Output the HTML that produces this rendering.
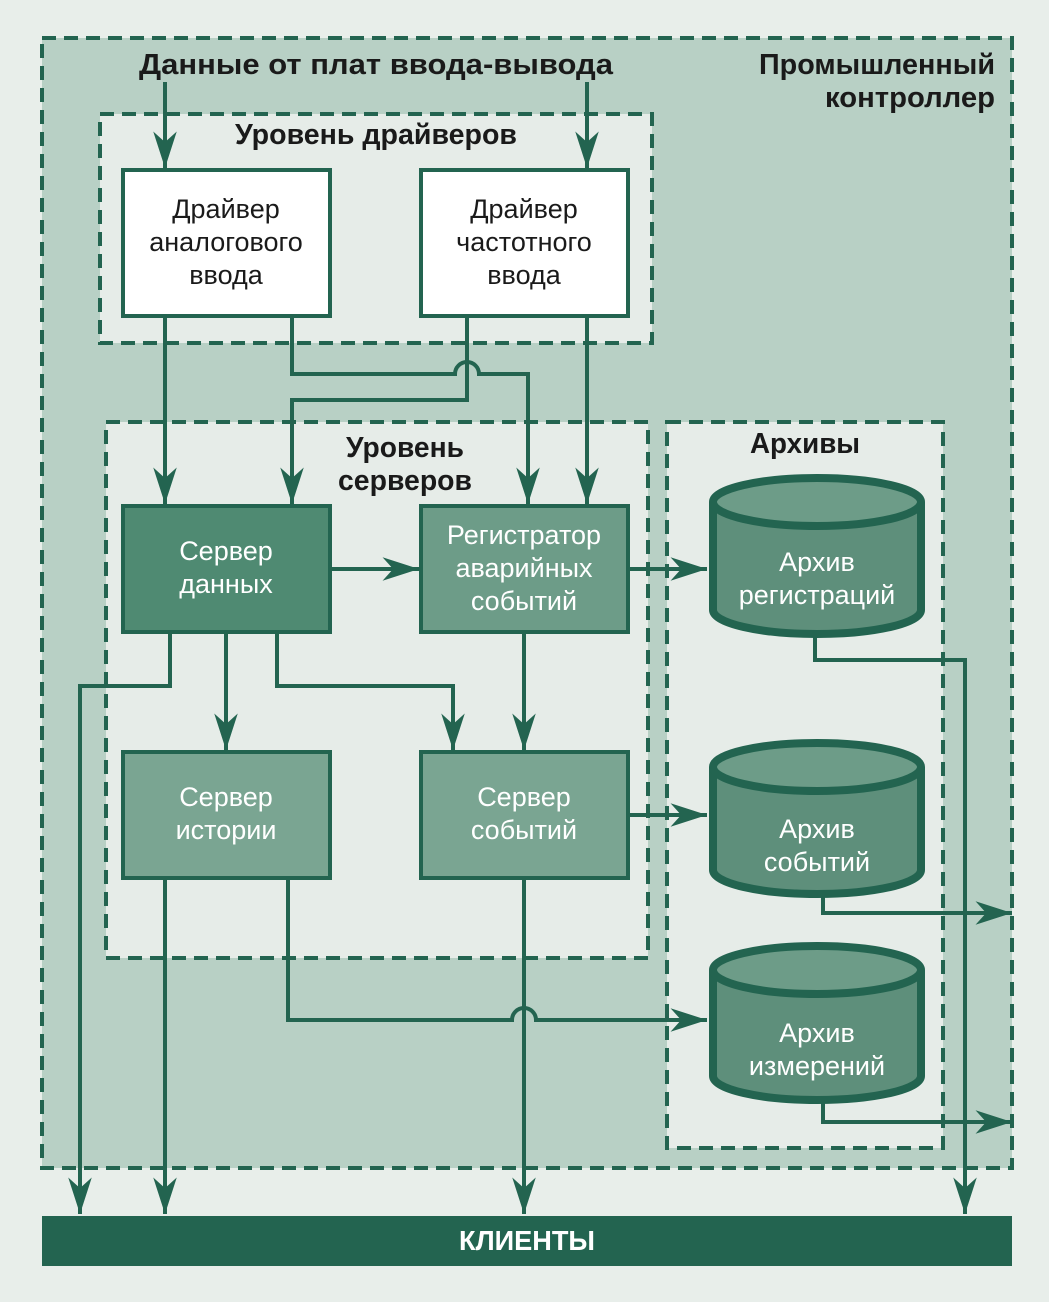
<!DOCTYPE html>
<html><head><meta charset="utf-8"><style>
html,body{margin:0;padding:0;background:#e8eeea;}
svg{display:block}
text{font-family:"Liberation Sans Narrow","Liberation Sans",sans-serif;}
</style></head><body>
<svg width="1049" height="1302" viewBox="0 0 1049 1302" xmlns="http://www.w3.org/2000/svg">
<defs>
<marker id="a" markerUnits="userSpaceOnUse" markerWidth="40" markerHeight="30" viewBox="-32 -12 34 24" refX="0" refY="0" orient="auto">
<path d="M0,0 L-31,-10 L-22,0 L-31,10 Z" fill="#236450"/>
</marker>
</defs>
<rect x="0" y="0" width="1049" height="1302" fill="#e8eeea"/>
<!-- outer -->
<rect x="42" y="38" width="970" height="1130" fill="#b8d0c5" stroke="#236450" stroke-width="4" stroke-dasharray="14,8"/>
<!-- level boxes -->
<rect x="100" y="114" width="552" height="229" fill="#e6ece8" stroke="#236450" stroke-width="4" stroke-dasharray="14,8"/>
<rect x="106" y="422" width="542" height="536" fill="#e6ece8" stroke="#236450" stroke-width="4" stroke-dasharray="14,8"/>
<rect x="667" y="422" width="276" height="726" fill="#e6ece8" stroke="#236450" stroke-width="4" stroke-dasharray="14,8"/>

<g font-weight="bold" fill="#1a1a1a" font-size="29">
<text x="376" y="74" text-anchor="middle" textLength="474" lengthAdjust="spacingAndGlyphs">Данные от плат ввода-вывода</text>
<text x="995" y="74" text-anchor="end" textLength="236" lengthAdjust="spacingAndGlyphs">Промышленный</text>
<text x="995" y="107" text-anchor="end" textLength="170" lengthAdjust="spacingAndGlyphs">контроллер</text>
<text x="376" y="144" text-anchor="middle" textLength="282" lengthAdjust="spacingAndGlyphs">Уровень драйверов</text>
<text x="405" y="457" text-anchor="middle" textLength="118" lengthAdjust="spacingAndGlyphs">Уровень</text>
<text x="405" y="490" text-anchor="middle" textLength="134" lengthAdjust="spacingAndGlyphs">серверов</text>
<text x="805" y="453" text-anchor="middle" textLength="110" lengthAdjust="spacingAndGlyphs">Архивы</text>
</g>

<!-- connectors -->
<g fill="none" stroke="#236450" stroke-width="4">
<path d="M165,82 V168" marker-end="url(#a)"/>
<path d="M587,82 V168" marker-end="url(#a)"/>
<path d="M165,316 V504" marker-end="url(#a)"/>
<path d="M292,316 V374 H455 A12,12 0 0 1 479,374 H528 V504" marker-end="url(#a)"/>
<path d="M467,316 V400 H292 V504" marker-end="url(#a)"/>
<path d="M587,316 V504" marker-end="url(#a)"/>
<path d="M330,569 H419" marker-end="url(#a)"/>
<path d="M628,569 H707" marker-end="url(#a)"/>
<path d="M170,632 V686 H80 V1214" marker-end="url(#a)"/>
<path d="M226,632 V750" marker-end="url(#a)"/>
<path d="M277,632 V686 H453 V750" marker-end="url(#a)"/>
<path d="M524,632 V750" marker-end="url(#a)"/>
<path d="M628,815 H707" marker-end="url(#a)"/>
<path d="M165,878 V1214" marker-end="url(#a)"/>
<path d="M288,878 V1020 H512 A12,12 0 0 1 536,1020 H707" marker-end="url(#a)"/>
<path d="M524,878 V1214" marker-end="url(#a)"/>
<path d="M815,635 V660 H965 V1214" marker-end="url(#a)"/>
<path d="M823,895 V913 H1012" marker-end="url(#a)"/>
<path d="M823,1100 V1122 H1012" marker-end="url(#a)"/>
</g>

<!-- boxes -->
<g stroke="#236450" stroke-width="4">
<rect x="123" y="170" width="207" height="146" fill="#ffffff"/>
<rect x="421" y="170" width="207" height="146" fill="#ffffff"/>
<rect x="123" y="506" width="207" height="126" fill="#4f8a72"/>
<rect x="421" y="506" width="207" height="126" fill="#6d9c88"/>
<rect x="123" y="752" width="207" height="126" fill="#7aa592"/>
<rect x="421" y="752" width="207" height="126" fill="#7aa592"/>
</g>
<g font-size="27" text-anchor="middle" fill="#1a1a1a">
<text x="226" y="218">Драйвер</text>
<text x="226" y="251">аналогового</text>
<text x="226" y="284">ввода</text>
<text x="524" y="218">Драйвер</text>
<text x="524" y="251">частотного</text>
<text x="524" y="284">ввода</text>
</g>
<g font-size="27" text-anchor="middle" fill="#ffffff">
<text x="226" y="560">Сервер</text>
<text x="226" y="593">данных</text>
<text x="524" y="544">Регистратор</text>
<text x="524" y="577">аварийных</text>
<text x="524" y="610">событий</text>
<text x="226" y="806">Сервер</text>
<text x="226" y="839">истории</text>
<text x="524" y="806">Сервер</text>
<text x="524" y="839">событий</text>
</g>

<!-- cylinders -->
<g stroke="#236450" stroke-width="8" fill="#5e8f7b">
<path d="M713,502 V610 A104,24 0 0 0 921,610 V502"/>
<path d="M713,502 A104,24 0 0 1 921,502 A104,24 0 0 1 713,502 Z" fill="#6d9c88"/>
<path d="M713,767 V870 A104,24 0 0 0 921,870 V767"/>
<path d="M713,767 A104,24 0 0 1 921,767 A104,24 0 0 1 713,767 Z" fill="#6d9c88"/>
<path d="M713,970 V1076 A104,24 0 0 0 921,1076 V970"/>
<path d="M713,970 A104,24 0 0 1 921,970 A104,24 0 0 1 713,970 Z" fill="#6d9c88"/>
</g>
<g font-size="27" text-anchor="middle" fill="#ffffff">
<text x="817" y="571">Архив</text>
<text x="817" y="604">регистраций</text>
<text x="817" y="838">Архив</text>
<text x="817" y="871">событий</text>
<text x="817" y="1042">Архив</text>
<text x="817" y="1075">измерений</text>
</g>

<!-- clients -->
<rect x="42" y="1216" width="970" height="50" fill="#236450"/>
<text x="527" y="1250" text-anchor="middle" font-size="28" font-weight="bold" fill="#ffffff" textLength="136" lengthAdjust="spacingAndGlyphs">КЛИЕНТЫ</text>
</svg>
</body></html>
